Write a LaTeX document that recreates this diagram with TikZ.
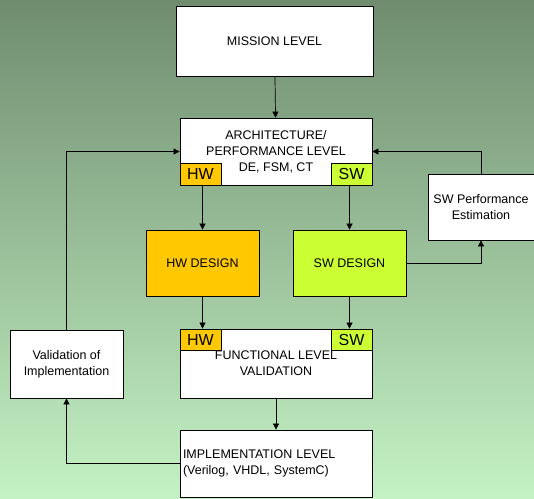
\documentclass[tikz,border=0pt]{standalone}
\usepackage{fontspec}
\setmainfont{Liberation Sans}
\usetikzlibrary{positioning,arrows.meta}

\definecolor{bgtop}{RGB}{111,140,111}
\definecolor{bgbottom}{RGB}{196,242,196}
\definecolor{hwfill}{RGB}{255,200,0}
\definecolor{swfill}{RGB}{204,255,51}

\tikzset{
  levelbox/.style={draw, fill=white, line width=0.8pt, inner sep=2pt,
    minimum width=192pt, minimum height=67pt, align=center,
    font=\fontsize{12.5}{16}\selectfont},
  sidebox/.style={levelbox, minimum width=113pt, minimum height=67pt},
  designbox/.style={levelbox, minimum width=113pt, minimum height=66pt},
  tagbox/.style={draw, line width=0.8pt, inner sep=0pt, minimum width=41pt,
    minimum height=22pt, font=\fontsize{16}{16}\selectfont},
}

\begin{document}
\begin{tikzpicture}[>={Triangle[length=6pt,width=6pt]}, x=1pt, y=-1pt, line width=0.7pt]
% background
\shade[top color=bgtop, bottom color=bgbottom] (0,0) rectangle (534,498);
\useasboundingbox (0,0) rectangle (534,498);

% === Levels ===
\node[levelbox, minimum width=197pt, minimum height=70pt] (Mission) at (274.5,41) {MISSION LEVEL};
\node[levelbox] (Arch) at (276,151.5) {ARCHITECTURE/\\PERFORMANCE LEVEL\\DE, FSM, CT};
\node[levelbox, minimum height=69pt] (Func) at (276,363.5) {FUNCTIONAL LEVEL\\VALIDATION};
\node[levelbox, align=left, text width=186pt] (Impl) at (276,463.5) {IMPLEMENTATION LEVEL\\(Verilog, VHDL, SystemC)};

% === HW / SW tags ===
\node[tagbox, fill=hwfill, anchor=south west] (ArchHW) at (Arch.south west) {HW};
\node[tagbox, fill=swfill, anchor=south east] (ArchSW) at (Arch.south east) {SW};
\node[tagbox, fill=hwfill, anchor=north west, minimum height=21pt] (FuncHW) at (Func.north west) {HW};
\node[tagbox, fill=swfill, anchor=north east, minimum height=21pt] (FuncSW) at (Func.north east) {SW};

% === Design boxes ===
\node[designbox, fill=hwfill] (HWDesign) at (202.5,263) {HW DESIGN};
\node[designbox, fill=swfill] (SWDesign) at (349.5,263) {SW DESIGN};

% === Side boxes ===
\node[sidebox, minimum width=106pt, minimum height=66pt] (SWPerf) at (481,207) {SW Performance\\Estimation};
\node[sidebox, minimum height=68pt] (Valid) at (66.5,364) {Validation of\\Implementation};

% === Connections ===
\draw[->] (Mission) -- (Arch);
\draw[->] (ArchHW.south -| HWDesign.north) -- (HWDesign.north);
\draw[->] (ArchSW.south -| SWDesign.north) -- (SWDesign.north);
\draw[->] (HWDesign.south) -- (HWDesign.south |- FuncHW.north);
\draw[->] (SWDesign.south) -- (SWDesign.south |- FuncSW.north);
\draw[->] (Func) -- (Impl);

% feedback loops
\draw[->] (Impl.west) -| (Valid.south);
\draw[->] (Valid.north) |- (Arch.west);
\draw[->] (SWDesign.east) -| (SWPerf.south);
\draw[->] (SWPerf.north) |- (Arch.east);
\end{tikzpicture}
\end{document}
